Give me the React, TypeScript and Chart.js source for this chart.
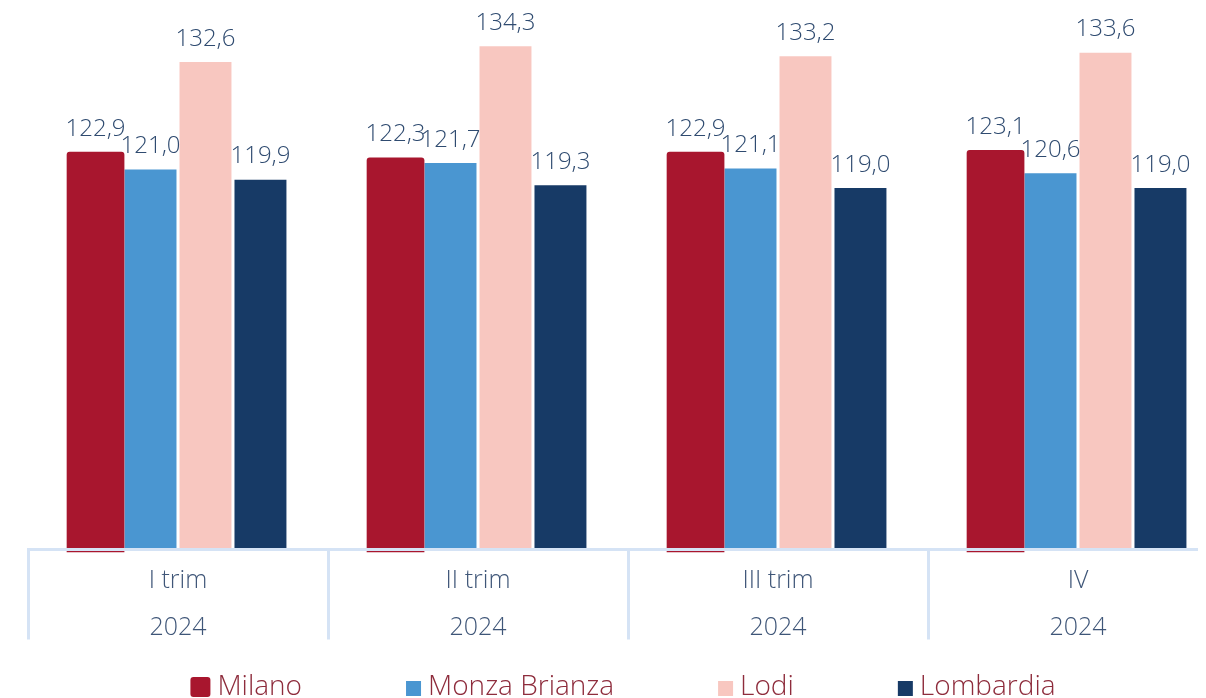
import React, { useEffect, useRef } from "react";
import { Chart, registerables } from "chart.js";

Chart.register(...registerables);

const quarters = ["I trim", "II trim", "III trim", "IV"];
const years = ["2024", "2024", "2024", "2024"];
const seriesNames = ["Milano", "Monza Brianza", "Lodi", "Lombardia"];
const milano = [122.9, 122.3, 122.9, 123.1];
const monza = [121.0, 121.7, 121.1, 120.6];
const lodi = [132.6, 134.3, 133.2, 133.6];
const lombardia = [119.9, 119.3, 119.0, 119.0];
const seriesColors = ["#A8162E", "#4A96D1", "#F8C7C0", "#173A66"];

const FONT = '"Open Sans", "Noto Sans", sans-serif';
const LABEL_COLOR = "#2F4B70";
const TICK_COLOR = "#3F5678";
const LEGEND_COLOR = "#8E2C3C";
const AXIS_COLOR = "#D5E3F5";

const fmt = (v: number) => v.toFixed(1).replace(".", ",");

const dataLabelPlugin = {
  id: "dataLabels",
  afterDatasetsDraw(chart: any) {
    const ctx = chart.ctx;
    ctx.save();
    ctx.font = `300 24px ${FONT}`;
    ctx.fillStyle = LABEL_COLOR;
    ctx.textAlign = "center";
    ctx.textBaseline = "middle";
    chart.data.datasets.forEach((ds: any, i: number) => {
      const meta = chart.getDatasetMeta(i);
      meta.data.forEach((bar: any, j: number) => {
        ctx.fillText(fmt(ds.data[j]), bar.x, bar.y - 23);
      });
    });
    ctx.restore();
  },
};

const legendPlugin = {
  id: "customLegend",
  afterDraw(chart: any) {
    const ctx = chart.ctx;
    ctx.save();
    ctx.font = `300 28px ${FONT}`;
    const gap = 104;
    const textGap = 7;
    const items = chart.data.datasets.map((ds: any, i: number) => {
      const box = i === 0 ? 20 : 15;
      const tw = ctx.measureText(ds.label).width;
      return { label: ds.label, color: ds.backgroundColor, box, tw, w: box + textGap + tw };
    });
    const total = items.reduce((s: number, it: any) => s + it.w, 0) + gap * (items.length - 1);
    let x = chart.width / 2 - 5 - total / 2;
    const baseline = 687;
    items.forEach((it: any, i: number) => {
      ctx.fillStyle = it.color;
      if (i === 0) {
        ctx.beginPath();
        (ctx as any).roundRect(x, 669, it.box, 20, 3);
        ctx.fill();
      } else {
        ctx.fillRect(x, 673, it.box, 15);
      }
      ctx.fillStyle = LEGEND_COLOR;
      ctx.textAlign = "left";
      ctx.textBaseline = "alphabetic";
      ctx.fillText(it.label, x + it.box + textGap, baseline);
      x += it.w + gap;
    });
    ctx.restore();
  },
};

export default function App() {
  const ref = useRef<HTMLCanvasElement | null>(null);

  useEffect(() => {
    document.documentElement.style.overflow = "hidden";
    document.body.style.overflow = "hidden";
    if (!ref.current) return;
    const seriesData = [milano, monza, lodi, lombardia];
    const chart = new Chart(ref.current, {
      type: "bar",
      data: {
        // two visible lines plus two empty lines that only reserve room for the label area
        labels: quarters.map((q, i) => [q, years[i], "", ""]),
        datasets: seriesNames.map((name, i) => ({
          label: name,
          data: seriesData[i],
          backgroundColor: seriesColors[i],
          borderWidth: 0,
          barPercentage: i === 0 ? 1.05 : 0.945,
          categoryPercentage: 0.733,
          ...(i === 0
            ? { borderRadius: { topLeft: 3, topRight: 3 }, base: 79.7, clip: false as any }
            : {}),
        })),
      },
      options: {
        animation: false,
        responsive: false,
        layout: { padding: { left: 20, right: 20, top: 2, bottom: 34.5 } },
        plugins: {
          legend: { display: false },
          tooltip: { enabled: false },
        },
        scales: {
          y: {
            display: false,
            min: 80,
            max: 138.2,
          },
          x: {
            offset: true,
            grid: {
              offset: true,
              drawOnChartArea: false,
              drawTicks: true,
              tickLength: 90,
              color: AXIS_COLOR,
              lineWidth: 3,
              z: 1,
            },
            border: { display: true, color: AXIS_COLOR, width: 3, z: 1 },
            ticks: {
              padding: -82,
              maxRotation: 0,
              autoSkip: false,
              color: TICK_COLOR,
              font: { family: FONT, size: 25, weight: "300" as any, lineHeight: 47 / 25 },
            },
          },
        },
      },
      plugins: [dataLabelPlugin, legendPlugin],
    });
    return () => chart.destroy();
  }, []);

  return (
    <div style={{ width: 1198, height: 690, overflow: "hidden" }}>
      <canvas ref={ref} width={1240} height={690} style={{ width: 1240, height: 690, display: "block" }} />
    </div>
  );
}
